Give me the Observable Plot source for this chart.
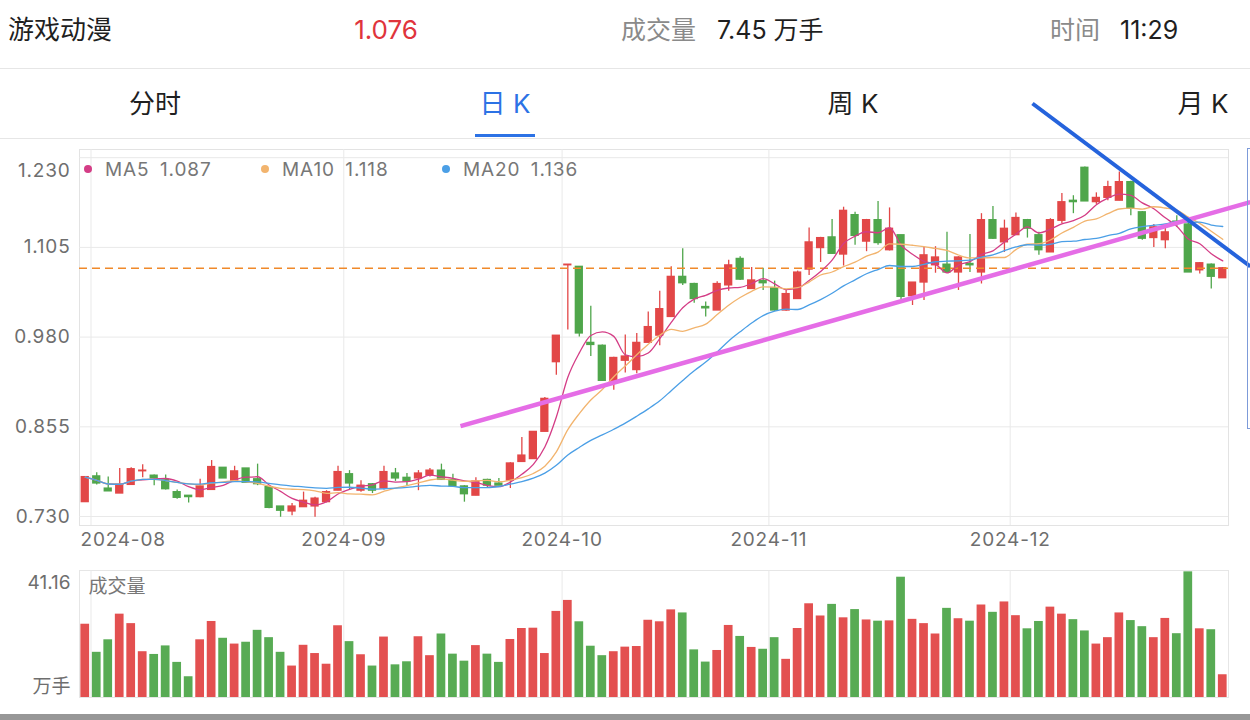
<!DOCTYPE html>
<html><head><meta charset="utf-8">
<script src="https://cdn.jsdelivr.net/npm/d3@7"></script>
<script src="https://cdn.jsdelivr.net/npm/@observablehq/plot@0.6"></script>
<style>
body{margin:0;background:#fff;}
#page{position:relative;width:1250px;height:720px;overflow:hidden;background:#fff;font-family:"Inter","Noto Sans CJK SC",sans-serif;}
.abs{position:absolute;white-space:nowrap;line-height:1;}
.plotbox{position:absolute;left:0;}
</style></head><body><div id="page"></div>
<script>
// ---------------- data ----------------
const fundName = "游戏动漫";
const lastPrice = 1.076;
const volumeText = "7.45 万手";
const timeText = "11:29";
const tabs = ["分时", "日 K", "周 K", "月 K"];
const activeTab = "日 K";

const dates = [
"2024-07-31",
"2024-08-01","2024-08-02","2024-08-05","2024-08-06","2024-08-07","2024-08-08","2024-08-09","2024-08-12","2024-08-13","2024-08-14","2024-08-15","2024-08-16","2024-08-19","2024-08-20","2024-08-21","2024-08-22","2024-08-23","2024-08-26","2024-08-27","2024-08-28","2024-08-29","2024-08-30",
"2024-09-02","2024-09-03","2024-09-04","2024-09-05","2024-09-06","2024-09-09","2024-09-10","2024-09-11","2024-09-12","2024-09-13","2024-09-18","2024-09-19","2024-09-20","2024-09-23","2024-09-24","2024-09-25","2024-09-26","2024-09-27","2024-09-30",
"2024-10-08","2024-10-09","2024-10-10","2024-10-11","2024-10-14","2024-10-15","2024-10-16","2024-10-17","2024-10-18","2024-10-21","2024-10-22","2024-10-23","2024-10-24","2024-10-25","2024-10-28","2024-10-29","2024-10-30","2024-10-31",
"2024-11-01","2024-11-04","2024-11-05","2024-11-06","2024-11-07","2024-11-08","2024-11-11","2024-11-12","2024-11-13","2024-11-14","2024-11-15","2024-11-18","2024-11-19","2024-11-20","2024-11-21","2024-11-22","2024-11-25","2024-11-26","2024-11-27","2024-11-28","2024-11-29",
"2024-12-02","2024-12-03","2024-12-04","2024-12-05","2024-12-06","2024-12-09","2024-12-10","2024-12-11","2024-12-12","2024-12-13","2024-12-16","2024-12-17","2024-12-18","2024-12-19","2024-12-20","2024-12-23","2024-12-24","2024-12-25","2024-12-26"
];

const opens = [
0.750,0.786,0.769,0.762,0.774,0.793,0.787,0.781,0.764,0.759,
0.757,0.767,0.798,0.780,0.797,0.782,0.771,0.744,0.737,0.743,
0.744,0.750,0.766,0.789,0.766,0.775,0.769,0.790,0.784,0.783,
0.787,0.794,0.781,0.772,0.759,0.781,0.776,0.780,0.806,0.810,
0.848,0.945,1.080,1.078,0.972,0.968,0.917,0.947,0.934,0.972,
0.982,1.008,1.064,1.054,1.022,1.017,1.052,1.089,1.047,1.058,
1.048,1.017,1.033,1.074,1.104,1.119,1.095,1.150,1.113,1.143,
1.101,1.122,1.037,1.056,1.080,1.081,1.070,1.082,1.070,1.143,
1.112,1.122,1.143,1.122,1.098,1.142,1.170,1.216,1.168,1.174,
1.170,1.196,1.154,1.118,1.115,1.141,1.137,1.073,1.081,1.062
];
const highs = [
0.785,0.791,0.785,0.797,0.798,0.802,0.788,0.788,0.767,0.759,
0.782,0.808,0.798,0.800,0.797,0.803,0.772,0.744,0.748,0.764,
0.757,0.766,0.800,0.794,0.780,0.776,0.800,0.797,0.790,0.794,
0.797,0.803,0.789,0.773,0.784,0.782,0.783,0.805,0.840,0.848,
0.896,0.982,1.081,1.078,1.023,0.969,0.952,0.983,0.985,1.015,
1.044,1.078,1.103,1.055,1.029,1.057,1.087,1.092,1.077,1.076,
1.058,1.045,1.072,1.132,1.119,1.144,1.161,1.154,1.144,1.169,
1.160,1.122,1.056,1.105,1.106,1.126,1.092,1.123,1.152,1.162,
1.143,1.153,1.144,1.126,1.145,1.180,1.177,1.217,1.181,1.197,
1.210,1.197,1.155,1.137,1.136,1.149,1.139,1.084,1.082,1.077
];
const lows = [
0.750,0.774,0.765,0.762,0.774,0.784,0.773,0.767,0.754,0.749,
0.756,0.767,0.783,0.780,0.776,0.773,0.741,0.729,0.731,0.743,
0.729,0.749,0.766,0.767,0.764,0.762,0.767,0.779,0.773,0.766,
0.785,0.781,0.771,0.750,0.759,0.770,0.773,0.769,0.806,0.810,
0.848,0.927,0.990,0.980,0.953,0.918,0.906,0.930,0.929,0.972,
0.968,1.008,1.052,1.027,1.008,1.017,1.044,1.059,1.047,1.045,
1.016,1.016,1.033,1.066,1.084,1.095,1.079,1.108,1.099,1.108,
1.100,1.032,1.024,1.031,1.069,1.069,1.045,1.070,1.054,1.116,
1.098,1.122,1.118,1.094,1.098,1.138,1.152,1.169,1.165,1.170,
1.170,1.149,1.115,1.105,1.103,1.133,1.070,1.068,1.047,1.062
];
const closes = [
0.785,0.776,0.765,0.774,0.796,0.794,0.783,0.768,0.756,0.757,
0.772,0.799,0.783,0.793,0.777,0.775,0.742,0.738,0.744,0.752,
0.755,0.764,0.792,0.776,0.773,0.766,0.792,0.783,0.779,0.790,
0.794,0.781,0.772,0.761,0.779,0.773,0.773,0.804,0.815,0.848,
0.894,0.982,1.081,0.985,0.969,0.919,0.951,0.953,0.972,0.994,
1.019,1.064,1.055,1.033,1.020,1.054,1.080,1.060,1.059,1.055,
1.017,1.040,1.070,1.112,1.118,1.096,1.156,1.121,1.143,1.111,
1.131,1.036,1.056,1.094,1.091,1.070,1.091,1.080,1.143,1.117,
1.131,1.146,1.131,1.101,1.143,1.168,1.168,1.169,1.174,1.189,
1.196,1.159,1.117,1.133,1.126,1.138,1.070,1.083,1.064,1.076
];
// volume, 万手
const volumes = [
24.0,14.8,18.9,27.3,24.2,15.0,14.1,16.9,11.5,6.8,
18.9,24.9,19.4,17.5,18.1,22.0,19.6,14.8,10.3,17.1,
14.4,10.9,23.5,18.3,14.0,10.3,19.8,10.7,11.7,19.9,
13.7,20.8,14.2,11.9,17.0,14.2,11.5,19.0,22.6,22.7,
14.4,28.2,31.8,24.8,16.8,13.7,15.0,16.5,16.7,25.3,
24.8,28.7,27.7,15.6,11.6,15.4,23.6,20.0,16.4,15.8,
19.6,12.5,22.6,30.7,26.7,30.5,26.1,28.8,25.4,25.0,
25.1,39.4,25.6,24.2,20.8,29.2,25.8,25.0,30.3,27.9,
31.3,26.8,22.5,24.9,29.6,27.3,25.5,21.8,17.5,19.6,
27.7,25.2,23.2,19.6,25.9,20.9,41.16,22.5,22.2,7.45
];

const yTicks = [0.730, 0.855, 0.980, 1.105, 1.230];
const volTopLabel = "41.16";
const volUnit = "万手";
const volTitle = "成交量";
const monthLabels = ["2024-08", "2024-09", "2024-10", "2024-11", "2024-12"];

const maNames = ["MA5", "MA10", "MA20"];
const maPeriods = [5, 10, 20];
const maLegendValues = ["1.087", "1.118", "1.136"];
const maColors = ["#d43d86", "#f2b46e", "#4b9fe6"];

// hand-drawn trend lines (x = trading-day index, y = price)
const supportLine = [[32.66, 0.856], [101.4, 1.168]];
const resistanceLine = [[82.44, 1.3055], [101.4, 1.0784]];

// ---------------- styling ----------------
const RED = "#e24747";
const GREEN = "#4fa64b";
const GRID = "#e9e9e9";
const AXIS_TEXT = "#6e6e6e";

const candles = dates.map((d, i) => ({
  i, date: d, open: opens[i], high: highs[i], low: lows[i], close: closes[i], volume: volumes[i]
}));
const up = d => d.close >= d.open;
const colorOf = d => up(d) ? RED : GREEN;
const monthStarts = monthLabels.map(m => ({label: m, pos: dates.findIndex(d => d.startsWith(m)) - 0.5}));
const xDomain = [-0.5, dates.length - 0.5];

const page = document.getElementById("page");

function txt(s, x, yc, size, color, anchor = "start", weight = 400) {
  const el = document.createElement("div");
  el.className = "abs";
  el.textContent = s;
  el.style.left = x + "px";
  el.style.top = yc + "px";
  el.style.fontSize = size + "px";
  el.style.color = color;
  el.style.fontWeight = weight;
  const tx = anchor === "middle" ? "-50%" : anchor === "end" ? "-100%" : "0";
  el.style.transform = `translate(${tx},-50%)`;
  page.appendChild(el);
  return el;
}
function box(left, top, w, h, bg) {
  const el = document.createElement("div");
  el.className = "abs";
  Object.assign(el.style, {left: left + "px", top: top + "px", width: w + "px", height: h + "px", background: bg});
  page.appendChild(el);
  return el;
}

// header
txt(fundName, 8, 30, 26, "#1f1f1f");
txt(String(lastPrice.toFixed(3)), 386, 30, 26, "#e0343c", "middle");
txt("成交量", 621, 30, 25, "#8a8a8a");
txt(volumeText, 717, 30, 25, "#1f1f1f");
txt("时间", 1050, 30, 25, "#8a8a8a");
txt(timeText, 1120, 30, 25, "#1f1f1f");
box(0, 68, 1250, 1, "#e6e6e6");

// tabs
const tabCenters = [155, 505, 853, 1203];
tabs.forEach((t, k) => txt(t, tabCenters[k], 104, 26, t === activeTab ? "#2c72e5" : "#1f1f1f", "middle"));
box(475, 134, 60, 3, "#2c72e5");
box(0, 138, 1250, 1, "#e6e6e6");

// ---------------- price chart ----------------
const priceChart = Plot.plot({
  width: 1250,
  height: 470,
  marginLeft: 79,
  marginRight: 22,
  marginTop: 59,
  marginBottom: 35,
  x: {domain: xDomain, axis: null},
  y: {domain: [0.7175, 1.2414], axis: null},
  style: {background: "transparent", overflow: "visible", fontFamily: "Inter, 'Noto Sans CJK SC', sans-serif", letterSpacing: "0.8px"},
  marks: [
    Plot.frame({stroke: "#e3e3e3"}),
    Plot.gridY(yTicks, {stroke: GRID, strokeOpacity: 1}),
    Plot.gridX(monthStarts.map(m => m.pos), {stroke: GRID, strokeOpacity: 1}),
    Plot.text(yTicks.filter(v => v !== d3.max(yTicks)), {y: d => d, text: d => d.toFixed(3), frameAnchor: "left", textAnchor: "end", dx: -9, fontSize: 19, fill: AXIS_TEXT}),
    Plot.text([d3.max(yTicks)], {y: d => d, text: d => d.toFixed(3), frameAnchor: "left", textAnchor: "end", dx: -9, dy: 13, fontSize: 19, fill: AXIS_TEXT}),
    Plot.text(monthStarts.slice(0, 1), {x: xDomain[0], text: "label", frameAnchor: "bottom", textAnchor: "start", dx: 1, dy: 20, fontSize: 19, fill: AXIS_TEXT}),
    Plot.text(monthStarts.slice(1), {x: "pos", text: "label", frameAnchor: "bottom", textAnchor: "middle", dy: 20, fontSize: 19, fill: AXIS_TEXT}),
    Plot.ruleX(candles, {x: "i", y1: "low", y2: "high", stroke: colorOf, strokeWidth: 1.3}),
    Plot.rect(candles, {x1: d => d.i - 0.36, x2: d => d.i + 0.36, y1: "open", y2: "close", fill: colorOf, insetTop: -0.6, insetBottom: -0.6}),
    Plot.ruleY([lastPrice], {stroke: "#f0892a", strokeWidth: 1.6, strokeDasharray: "8,5"}),
    ...maPeriods.map((k, j) => Plot.lineY(candles, Plot.windowY({k, anchor: "end"}, {x: "i", y: "close", stroke: maColors[j], strokeWidth: 1.3, curve: "monotone-x"}))),
    Plot.line(supportLine, {x: d => d[0], y: d => d[1], stroke: "#e56de6", strokeWidth: 4.5, strokeLinecap: "butt"}),
    Plot.line(resistanceLine, {x: d => d[0], y: d => d[1], stroke: "#2563dc", strokeWidth: 4, strokeLinecap: "butt"})
  ]
});
const pbox = document.createElement("div");
pbox.className = "plotbox";
pbox.style.top = "90px";
pbox.appendChild(priceChart);
page.appendChild(pbox);

// MA legend
const legendX = [88, 265, 446];
maNames.forEach((n, j) => {
  const dot = box(legendX[j] - 4, 165, 8, 8, maColors[j]);
  dot.style.borderRadius = "50%";
  const t = txt(n + "\u2002" + maLegendValues[j], legendX[j] + 17, 169, 19, "#777777");
  t.style.letterSpacing = "0.9px";
});

// right-edge bracket
const br = document.createElement("div");
br.className = "abs";
Object.assign(br.style, {left: "1247px", top: "148px", width: "5px", height: "279px", borderLeft: "1px solid #7d9bd9", borderTop: "1px solid #7d9bd9", borderBottom: "1px solid #7d9bd9"});
page.appendChild(br);

// ---------------- volume chart ----------------
const volChart = Plot.plot({
  width: 1250,
  height: 140,
  marginLeft: 79,
  marginRight: 22,
  marginTop: 10,
  marginBottom: 3,
  x: {domain: xDomain, axis: null},
  y: {domain: [0, 41.6], axis: null},
  style: {background: "transparent", overflow: "visible", fontFamily: "Inter, 'Noto Sans CJK SC', sans-serif"},
  marks: [
    Plot.frame({stroke: "#e6e6e6"}),
    Plot.gridX(monthStarts.map(m => m.pos), {stroke: GRID, strokeOpacity: 1}),
    Plot.rectY(candles, {x1: d => d.i - 0.38, x2: d => d.i + 0.38, y: "volume", fill: colorOf, fillOpacity: 0.95}),
    Plot.text([volTopLabel], {text: d => d, frameAnchor: "top-left", textAnchor: "end", dx: -9, dy: 5, fontSize: 19, fill: AXIS_TEXT}),
    Plot.text([volUnit], {text: d => d, frameAnchor: "bottom-left", textAnchor: "end", dx: -9, dy: -5, fontSize: 19, fill: AXIS_TEXT}),
    Plot.text([volTitle], {text: d => d, frameAnchor: "top-left", textAnchor: "start", dx: 9, dy: 9, fontSize: 19, fill: "#777777"})
  ]
});
const vbox = document.createElement("div");
vbox.className = "plotbox";
vbox.style.top = "560px";
vbox.appendChild(volChart);
page.appendChild(vbox);

// bottom strip
box(0, 714, 1250, 6, "#979797");
</script></body></html>
